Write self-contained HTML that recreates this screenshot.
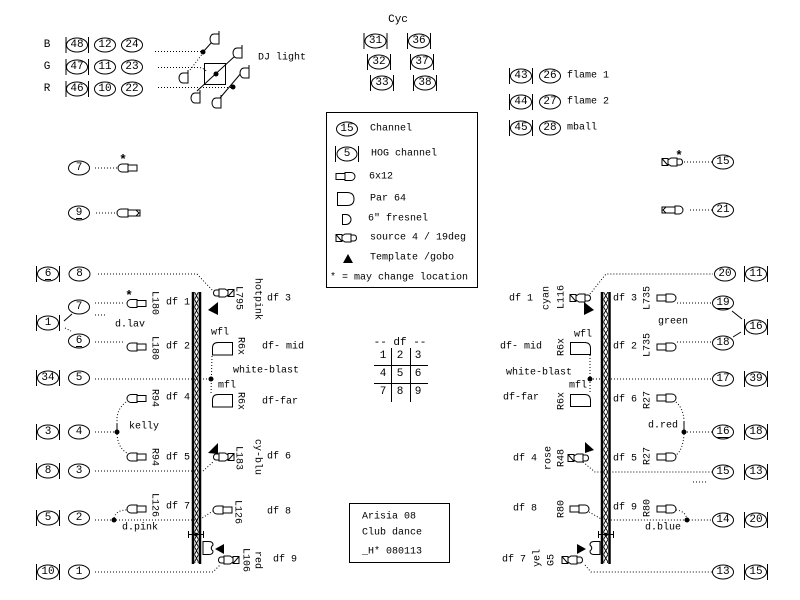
<!DOCTYPE html>
<html><head><meta charset="utf-8"><style>
html,body{margin:0;padding:0;background:#fff;}
svg{display:block;}
svg text{font-family:"Liberation Mono","DejaVu Sans Mono",monospace;font-size:10px;dominant-baseline:central;fill:#000;}
.c{text-anchor:middle;font-size:11px;}
text.c[transform]{font-size:10px;}
.ast{font-size:13px;font-weight:bold;}
.e{fill:#fff;stroke:#000;stroke-width:1;}
.s{fill:none;stroke:#000;stroke-width:1;}
.f{fill:#fff;stroke:#000;stroke-width:1;}
.d{fill:none;stroke:#000;stroke-width:1;stroke-dasharray:1 2;}
</style></head><body>
<svg width="800" height="600" viewBox="0 0 800 600" xmlns="http://www.w3.org/2000/svg">
<defs>
<g id="s6L"><path class="f" d="M10,-4 H4 A4,4 0 0 0 4,4 H10 Z"/><rect class="f" x="10" y="-3" width="9" height="6"/></g>
<g id="s6R"><rect class="f" x="0" y="-3" width="9" height="6"/><path class="f" d="M9,-4 H15 A4,4 0 0 1 15,4 H9 Z"/></g>
<g id="s4R"><rect class="f" x="0" y="-3.5" width="6" height="7"/><line class="s" x1="0" y1="-3.5" x2="6" y2="3.5"/><path class="f" d="M6,-2 L9,-4 H15 V4 H9 L6,2 Z"/><path class="f" d="M15,-3 H18 A2.5,3 0 0 1 18,3 H15 Z"/></g>
<g id="parR"><path class="f" d="M0,0 H14 Q20,0 20,6 V12 H0 Z"/></g>
<g id="frD"><path class="f" d="M8,-5 V5 H3 A4,5 0 0 1 3,-5 Z"/><line class="s" x1="8" y1="-5" x2="8" y2="-8"/></g>
<pattern id="zzL" patternUnits="userSpaceOnUse" x="194.5" y="292" width="4" height="15"><path d="M0,0 L4,7.5 L0,15 M4,0 L0,7.5 L4,15" fill="none" stroke="#000" stroke-width="0.9"/></pattern>
<pattern id="zzR" patternUnits="userSpaceOnUse" x="603.5" y="292" width="4.5" height="15"><path d="M0,0 L4.5,7.5 L0,15 M4.5,0 L0,7.5 L4.5,15" fill="none" stroke="#000" stroke-width="0.9"/></pattern>
</defs>

<!-- DJ area -->
<text class="c" x="47" y="45">B</text>
<text class="c" x="47" y="67">G</text>
<text class="c" x="47" y="89">R</text>
<g>
<ellipse class="e" cx="77" cy="45" rx="10.5" ry="7"/><line class="s" x1="66" y1="37" x2="66" y2="53"/><line class="s" x1="88.5" y1="37" x2="88.5" y2="53"/><text class="c" x="77" y="45">48</text>
<ellipse class="e" cx="77" cy="67" rx="10.5" ry="7"/><line class="s" x1="66" y1="59" x2="66" y2="75"/><line class="s" x1="88.5" y1="59" x2="88.5" y2="75"/><text class="c" x="77" y="67">47</text>
<ellipse class="e" cx="77" cy="89" rx="10.5" ry="7"/><line class="s" x1="66" y1="81" x2="66" y2="97"/><line class="s" x1="88.5" y1="81" x2="88.5" y2="97"/><text class="c" x="77" y="89">46</text>
<ellipse class="e" cx="105" cy="45" rx="10.5" ry="7"/><text class="c" x="105" y="45">12</text>
<ellipse class="e" cx="105" cy="67" rx="10.5" ry="7"/><text class="c" x="105" y="67">11</text>
<ellipse class="e" cx="105" cy="89" rx="10.5" ry="7"/><text class="c" x="105" y="89">10</text>
<ellipse class="e" cx="132" cy="45" rx="10.5" ry="7"/><text class="c" x="132" y="45">24</text>
<ellipse class="e" cx="132" cy="67" rx="10.5" ry="7"/><text class="c" x="132" y="67">23</text>
<ellipse class="e" cx="132" cy="89" rx="10.5" ry="7"/><text class="c" x="132" y="89">22</text>
</g>
<path class="d" d="M155,51.5 H203"/>
<path class="d" d="M158,67.5 H199 Q204,68 207,72"/>
<path class="d" d="M158,87.5 H233"/>
<rect class="s" x="204.5" y="63.5" width="21" height="21"/>
<line class="d" x1="190" y1="70" x2="203" y2="53"/>
<line class="s" x1="203" y1="52" x2="212" y2="42"/>
<line class="s" x1="197" y1="91" x2="235" y2="56"/>
<line class="s" x1="220" y1="98" x2="242" y2="72"/>
<circle cx="203" cy="52" r="2.5"/>
<circle cx="216" cy="74" r="2.5"/>
<circle cx="233" cy="87" r="2.5"/>
<use href="#frD" x="211" y="39"/>
<use href="#frD" x="180" y="78"/>
<use href="#frD" x="234" y="53"/>
<use href="#frD" x="192" y="98"/>
<use href="#frD" x="241" y="73"/>
<use href="#frD" x="213" y="103"/>
<text x="258" y="58">DJ light</text>

<!-- Cyc -->
<text class="c" x="398" y="20">Cyc</text>
<ellipse class="e" cx="375.5" cy="41" rx="10.5" ry="7"/><line class="s" x1="364" y1="33" x2="364" y2="49"/><line class="s" x1="387" y1="33" x2="387" y2="49"/><text class="c" x="375.5" y="41">31</text>
<ellipse class="e" cx="419" cy="41" rx="10.5" ry="7"/><line class="s" x1="407.5" y1="33" x2="407.5" y2="49"/><line class="s" x1="430.5" y1="33" x2="430.5" y2="49"/><text class="c" x="419" y="41">36</text>
<ellipse class="e" cx="379" cy="62" rx="10.5" ry="7"/><line class="s" x1="367.5" y1="54" x2="367.5" y2="70"/><line class="s" x1="390.5" y1="54" x2="390.5" y2="70"/><text class="c" x="379" y="62">32</text>
<ellipse class="e" cx="422" cy="62" rx="10.5" ry="7"/><line class="s" x1="410.5" y1="54" x2="410.5" y2="70"/><line class="s" x1="433.5" y1="54" x2="433.5" y2="70"/><text class="c" x="422" y="62">37</text>
<ellipse class="e" cx="382" cy="83" rx="10.5" ry="7"/><line class="s" x1="370.5" y1="75" x2="370.5" y2="91"/><line class="s" x1="393.5" y1="75" x2="393.5" y2="91"/><text class="c" x="382" y="83">33</text>
<ellipse class="e" cx="425" cy="83" rx="10.5" ry="7"/><line class="s" x1="413.5" y1="75" x2="413.5" y2="91"/><line class="s" x1="436.5" y1="75" x2="436.5" y2="91"/><text class="c" x="425" y="83">38</text>

<!-- flame -->
<ellipse class="e" cx="521" cy="76" rx="10.5" ry="7"/><line class="s" x1="509.5" y1="68" x2="509.5" y2="84"/><line class="s" x1="532.5" y1="68" x2="532.5" y2="84"/><text class="c" x="521" y="76">43</text>
<ellipse class="e" cx="550" cy="76" rx="10.5" ry="7"/><text class="c" x="550" y="76">26</text>
<text x="567" y="76">flame 1</text>
<ellipse class="e" cx="521" cy="102" rx="10.5" ry="7"/><line class="s" x1="509.5" y1="94" x2="509.5" y2="110"/><line class="s" x1="532.5" y1="94" x2="532.5" y2="110"/><text class="c" x="521" y="102">44</text>
<ellipse class="e" cx="550" cy="102" rx="10.5" ry="7"/><text class="c" x="550" y="102">27</text>
<text x="567" y="102">flame 2</text>
<ellipse class="e" cx="521" cy="128" rx="10.5" ry="7"/><line class="s" x1="509.5" y1="120" x2="509.5" y2="136"/><line class="s" x1="532.5" y1="120" x2="532.5" y2="136"/><text class="c" x="521" y="128">45</text>
<ellipse class="e" cx="550" cy="128" rx="10.5" ry="7"/><text class="c" x="550" y="128">28</text>
<text x="567" y="128">mball</text>

<!-- Legend -->
<rect class="s" x="326.5" y="112.5" width="151" height="175"/>
<ellipse class="e" cx="347" cy="129" rx="10.5" ry="7"/><text class="c" x="347" y="129">15</text>
<text x="370" y="129">Channel</text>
<ellipse class="e" cx="347" cy="154" rx="10" ry="7"/><line class="s" x1="335.5" y1="146" x2="335.5" y2="162"/><line class="s" x1="358.5" y1="146" x2="358.5" y2="162"/><text class="c" x="347" y="154">5</text>
<text x="371" y="154">HOG channel</text>
<use href="#s6R" x="336" y="176.5"/>
<text x="369" y="177">6x12</text>
<path class="f" d="M337.5,192.5 H347 Q354,192.5 354,199 Q354,205.5 347,205.5 H337.5 Z"/>
<text x="370" y="199">Par 64</text>
<path class="f" d="M342.5,214.5 H346 A5,5 0 0 1 346,224.5 H342.5 Z"/>
<text x="368" y="219">6" fresnel</text>
<use href="#s4R" x="336" y="238"/>
<text x="370" y="238">source 4 / 19deg</text>
<polygon points="343,263 348,254 353,263"/>
<text x="370" y="258">Template /gobo</text>
<text x="330" y="278">* = may change location</text>

<!-- left middle -->
<ellipse class="e" cx="79" cy="168" rx="10.5" ry="7"/><text class="c" x="79" y="168">7</text>
<path class="d" d="M95,168 H117"/>
<use href="#s6L" x="118" y="168"/>
<text class="c ast" x="123" y="160">*</text>
<ellipse class="e" cx="79" cy="213" rx="10.5" ry="7"/><text class="c" x="79" y="213">9</text><line class="s" x1="76" y1="218.5" x2="82" y2="218.5"/>
<path class="d" d="M96,213 H115"/>
<path class="f" d="M128,209 H121 A4,4 0 0 0 121,217 H128 Z"/><rect class="f" x="128" y="210" width="12" height="6"/><path class="s" d="M136,210 L139,213 L136,216"/>

<!-- right top -->
<use href="#s4R" x="662" y="162"/>
<text class="c ast" x="679" y="156">*</text>
<path class="d" d="M684,162 H712"/>
<ellipse class="e" cx="723" cy="162" rx="10.5" ry="7"/><text class="c" x="723" y="162">15</text>
<rect class="f" x="662" y="207" width="13" height="6"/><path class="s" d="M666,207 L663,210 L666,213"/><path class="f" d="M675,206 H679 A4,4 0 0 1 679,214 H675 Z"/>
<path class="d" d="M690,210 H712"/>
<ellipse class="e" cx="723" cy="210" rx="10.5" ry="7"/><text class="c" x="723" y="210">21</text>

<!-- TRUSSES -->
<rect x="194.5" y="292" width="4" height="271" fill="url(#zzL)"/>
<line x1="193" y1="292" x2="193" y2="564" stroke="#000" stroke-width="2.5"/>
<line x1="200" y1="292" x2="200" y2="564" stroke="#000" stroke-width="2.5"/>
<rect x="603.5" y="292" width="4.5" height="271" fill="url(#zzR)"/>
<line x1="602" y1="292" x2="602" y2="564" stroke="#000" stroke-width="2.5"/>
<line x1="609.5" y1="292" x2="609.5" y2="564" stroke="#000" stroke-width="2.5"/>
<!-- clamps -->
<line class="s" x1="188" y1="534.5" x2="204" y2="534.5"/><line class="s" x1="188.5" y1="531" x2="188.5" y2="538"/><line class="s" x1="203.5" y1="531" x2="203.5" y2="538"/><circle cx="196" cy="534.5" r="1.8"/>
<line class="s" x1="598" y1="534.5" x2="614" y2="534.5"/><line class="s" x1="598.5" y1="531" x2="598.5" y2="538"/><line class="s" x1="613.5" y1="531" x2="613.5" y2="538"/><circle cx="606" cy="534.5" r="1.8"/>

<!-- LEFT side channels -->
<ellipse class="e" cx="48" cy="274" rx="10.5" ry="7"/><line class="s" x1="36.5" y1="266" x2="36.5" y2="282"/><line class="s" x1="59.5" y1="266" x2="59.5" y2="282"/><text class="c" x="48" y="274">6</text><line class="s" x1="45" y1="279.5" x2="51" y2="279.5"/>
<ellipse class="e" cx="79.5" cy="274" rx="10.5" ry="7"/><text class="c" x="79.5" y="274">8</text>
<path class="d" d="M98,274 H197 L213,291"/>
<g transform="translate(234,293) scale(-1,1)"><use href="#s4R" x="0" y="0"/></g>
<polygon points="208,310 218,302 218,315"/>
<text class="c" transform="translate(238,298) rotate(90)">L795</text>
<text class="c" transform="translate(257,299) rotate(90)">hotpink</text>
<text x="267" y="299">df 3</text>

<ellipse class="e" cx="79" cy="307" rx="10.5" ry="7"/><text class="c" x="79" y="307">7</text>
<ellipse class="e" cx="48" cy="323" rx="10.5" ry="7"/><line class="s" x1="36.5" y1="315" x2="36.5" y2="331"/><line class="s" x1="59.5" y1="315" x2="59.5" y2="331"/><text class="c" x="48" y="323">1</text>
<line class="s" x1="64" y1="321" x2="72" y2="314"/>
<path class="d" d="M65,328 L71,331"/>
<path class="d" d="M95,303 H124"/>
<path class="d" d="M95,315 H106"/>
<use href="#s6L" x="127" y="303.5"/>
<text class="c ast" x="129" y="296">*</text>
<text class="c" transform="translate(154,303) rotate(90)">L180</text>
<text x="166" y="303">df 1</text>
<text x="115" y="325">d.lav</text>

<ellipse class="e" cx="79" cy="341" rx="10.5" ry="7"/><text class="c" x="79" y="341">6</text><line class="s" x1="76" y1="346.5" x2="82" y2="346.5"/>
<path class="d" d="M95,342 H124"/>
<use href="#s6L" x="127" y="347"/>
<text class="c" transform="translate(154,348) rotate(90)">L180</text>
<text x="166" y="347">df 2</text>

<ellipse class="e" cx="48" cy="378" rx="10.5" ry="7"/><line class="s" x1="36.5" y1="370" x2="36.5" y2="386"/><line class="s" x1="59.5" y1="370" x2="59.5" y2="386"/><text class="c" x="48" y="378">34</text>
<ellipse class="e" cx="79" cy="378" rx="10.5" ry="7"/><text class="c" x="79" y="378">5</text>
<path class="d" d="M95,379 H211"/>
<circle cx="211" cy="379" r="2.5"/>
<text x="211" y="333">wfl</text>
<path class="f" d="M232.5,342.5 H218 Q212.5,342.5 212.5,348 V355 H232.5 Z"/>
<text class="c" transform="translate(240,346) rotate(90)">R6x</text>
<text x="262" y="347">df- mid</text>
<text x="233" y="371">white-blast</text>
<path class="d" d="M212,356 L211,394"/>
<text x="218" y="386">mfl</text>
<path class="f" d="M232.5,394.5 H218 Q212.5,394.5 212.5,400 V407 H232.5 Z"/>
<text class="c" transform="translate(240,401) rotate(90)">R6x</text>
<text x="262" y="402">df-far</text>

<use href="#s6L" x="127" y="398.5"/>
<text class="c" transform="translate(154,398) rotate(90)">R94</text>
<text x="166" y="398">df 4</text>
<path class="d" d="M126,402 Q118,408 117,418 V424"/>
<line class="s" x1="117" y1="424" x2="117" y2="432"/>

<ellipse class="e" cx="48" cy="432" rx="10.5" ry="7"/><line class="s" x1="36.5" y1="424" x2="36.5" y2="440"/><line class="s" x1="59.5" y1="424" x2="59.5" y2="440"/><text class="c" x="48" y="432">3</text>
<ellipse class="e" cx="79" cy="432" rx="10.5" ry="7"/><text class="c" x="79" y="432">4</text>
<path class="d" d="M95,432 H117"/>
<circle cx="117" cy="432" r="2.5"/>
<text x="129" y="427">kelly</text>
<path class="d" d="M117,434 Q118,448 127,453"/>
<use href="#s6L" x="127" y="457"/>
<text class="c" transform="translate(154,457) rotate(90)">R94</text>
<text x="166" y="458">df 5</text>

<ellipse class="e" cx="48" cy="471" rx="10.5" ry="7"/><line class="s" x1="36.5" y1="463" x2="36.5" y2="479"/><line class="s" x1="59.5" y1="463" x2="59.5" y2="479"/><text class="c" x="48" y="471">8</text>
<ellipse class="e" cx="79" cy="471" rx="10.5" ry="7"/><text class="c" x="79" y="471">3</text>
<path class="d" d="M95,471 H203 L213,462"/>
<g transform="translate(234,457) scale(-1,1)"><use href="#s4R" x="0" y="0"/></g>
<polygon points="208,453 218,443 218,454"/>
<text class="c" transform="translate(238,458) rotate(90)">L183</text>
<text class="c" transform="translate(257,457) rotate(90)">cy-blu</text>
<text x="267" y="457">df 6</text>

<use href="#s6L" x="127" y="509"/>
<text class="c" transform="translate(154,505) rotate(90)">L126</text>
<text x="166" y="507">df 7</text>
<ellipse class="e" cx="48" cy="518" rx="10.5" ry="7"/><line class="s" x1="36.5" y1="510" x2="36.5" y2="526"/><line class="s" x1="59.5" y1="510" x2="59.5" y2="526"/><text class="c" x="48" y="518">5</text>
<ellipse class="e" cx="79" cy="518" rx="10.5" ry="7"/><text class="c" x="79" y="518">2</text>
<path class="d" d="M95,520 H199 L213,511"/>
<circle cx="114" cy="520" r="2.5"/>
<path class="d" d="M114,518 Q116,510 127,510"/>
<text x="122" y="528">d.pink</text>
<use href="#s6L" x="213" y="510"/>
<text class="c" transform="translate(237,512) rotate(90)">L126</text>
<text x="267" y="512">df 8</text>

<path class="f" d="M203,541.5 H209 Q213,541.5 213,545 Q209.5,548 213,551 Q213,554.5 209,554.5 H203 Z"/>
<polygon points="215,549 224,544 224,554"/>
<g transform="translate(239,560) scale(-1,1)"><use href="#s4R" x="0" y="0"/></g>
<text class="c" transform="translate(245,560) rotate(90)">L106</text>
<text class="c" transform="translate(257,560) rotate(90)">red</text>
<text x="273" y="560">df 9</text>
<ellipse class="e" cx="48" cy="572" rx="10.5" ry="7"/><line class="s" x1="36.5" y1="564" x2="36.5" y2="580"/><line class="s" x1="59.5" y1="564" x2="59.5" y2="580"/><text class="c" x="48" y="572">10</text>
<ellipse class="e" cx="79" cy="572" rx="10.5" ry="7"/><text class="c" x="79" y="572">1</text>
<path class="d" d="M95,572 H213 L220,565"/>

<!-- RIGHT side -->
<text x="509" y="299">df 1</text>
<text class="c" transform="translate(547,298) rotate(-90)">cyan</text>
<text class="c" transform="translate(562,297) rotate(-90)">L116</text>
<use href="#s4R" x="570" y="298"/>
<polygon points="594,310 584,302 584,315"/>
<path class="d" d="M590,294 L606,274 H713"/>
<ellipse class="e" cx="725" cy="274" rx="10.5" ry="7"/><text class="c" x="725" y="274">20</text>
<ellipse class="e" cx="756" cy="274" rx="10.5" ry="7"/><line class="s" x1="744.5" y1="266" x2="744.5" y2="282"/><line class="s" x1="767.5" y1="266" x2="767.5" y2="282"/><text class="c" x="756" y="274">11</text>

<text x="613" y="299">df 3</text>
<text class="c" transform="translate(648,298) rotate(-90)">L735</text>
<use href="#s6R" x="657" y="298"/>
<path class="d" d="M677,303 H712"/>
<ellipse class="e" cx="723" cy="303" rx="10.5" ry="7"/><text class="c" x="723" y="303">19</text><line class="s" x1="717" y1="308.5" x2="729" y2="308.5"/>
<ellipse class="e" cx="756" cy="327" rx="10.5" ry="7"/><line class="s" x1="744.5" y1="319" x2="744.5" y2="335"/><line class="s" x1="767.5" y1="319" x2="767.5" y2="335"/><text class="c" x="756" y="327">16</text>
<line class="s" x1="732" y1="311" x2="742" y2="319"/>
<line class="s" x1="733" y1="337" x2="741" y2="332"/>
<text x="658" y="322">green</text>

<text x="613" y="347">df 2</text>
<text class="c" transform="translate(648,345) rotate(-90)">L735</text>
<use href="#s6R" x="657" y="347"/>
<path class="d" d="M677,342 H712"/>
<ellipse class="e" cx="723" cy="343" rx="10.5" ry="7"/><text class="c" x="723" y="343">18</text>

<text x="574" y="335">wfl</text>
<text x="500" y="347">df- mid</text>
<text class="c" transform="translate(562,347) rotate(-90)">R6x</text>
<use href="#parR" x="570.5" y="342.5"/>
<text x="506" y="373">white-blast</text>
<circle cx="590" cy="379" r="2.5"/>
<path class="d" d="M590,379 H712"/>
<path class="d" d="M590,355 V394"/>
<ellipse class="e" cx="723" cy="379" rx="10.5" ry="7"/><text class="c" x="723" y="379">17</text>
<ellipse class="e" cx="756" cy="379" rx="10.5" ry="7"/><line class="s" x1="744.5" y1="371" x2="744.5" y2="387"/><line class="s" x1="767.5" y1="371" x2="767.5" y2="387"/><text class="c" x="756" y="379">39</text>
<text x="569" y="386">mfl</text>
<text x="503" y="398">df-far</text>
<text class="c" transform="translate(562,401) rotate(-90)">R6x</text>
<use href="#parR" x="570.5" y="394.5"/>

<text x="613" y="400">df 6</text>
<text class="c" transform="translate(648,400) rotate(-90)">R27</text>
<use href="#s6R" x="657" y="398"/>
<path class="d" d="M676,402 Q683,408 684,420"/>
<text x="648" y="426">d.red</text>
<line class="s" x1="684" y1="421" x2="684" y2="432"/>
<circle cx="684" cy="432" r="2.5"/>
<path class="d" d="M684,432 H712"/>
<ellipse class="e" cx="723" cy="432" rx="10.5" ry="7"/><text class="c" x="723" y="432">16</text><line class="s" x1="717" y1="437.5" x2="729" y2="437.5"/>
<ellipse class="e" cx="756" cy="432" rx="10.5" ry="7"/><line class="s" x1="744.5" y1="424" x2="744.5" y2="440"/><line class="s" x1="767.5" y1="424" x2="767.5" y2="440"/><text class="c" x="756" y="432">18</text>
<path class="d" d="M684,434 Q683,450 676,455"/>
<use href="#s6R" x="657" y="457"/>
<text class="c" transform="translate(648,456) rotate(-90)">R27</text>
<text x="613" y="459">df 5</text>

<text x="513" y="459">df 4</text>
<text class="c" transform="translate(549,458) rotate(-90)">rose</text>
<text class="c" transform="translate(562,458) rotate(-90)">R48</text>
<use href="#s4R" x="568" y="458"/>
<polygon points="585,442 585,453 594,450"/>
<path class="d" d="M583,462 L595,472 H712"/>
<path class="d" d="M693,482 H707"/>
<ellipse class="e" cx="723" cy="472" rx="10.5" ry="7"/><text class="c" x="723" y="472">15</text>
<ellipse class="e" cx="756" cy="472" rx="10.5" ry="7"/><line class="s" x1="744.5" y1="464" x2="744.5" y2="480"/><line class="s" x1="767.5" y1="464" x2="767.5" y2="480"/><text class="c" x="756" y="472">13</text>

<text x="513" y="509">df 8</text>
<text class="c" transform="translate(562,509) rotate(-90)">R80</text>
<use href="#s6R" x="570" y="509"/>
<path class="d" d="M589,512 L603,520 H712"/>
<text x="613" y="508">df 9</text>
<text class="c" transform="translate(648,508) rotate(-90)">R80</text>
<use href="#s6R" x="657" y="509"/>
<path class="d" d="M676,510 Q686,511 687,520"/>
<circle cx="687" cy="520" r="2.5"/>
<ellipse class="e" cx="723" cy="520" rx="10.5" ry="7"/><text class="c" x="723" y="520">14</text>
<ellipse class="e" cx="756" cy="520" rx="10.5" ry="7"/><line class="s" x1="744.5" y1="512" x2="744.5" y2="528"/><line class="s" x1="767.5" y1="512" x2="767.5" y2="528"/><text class="c" x="756" y="520">20</text>
<text x="645" y="528">d.blue</text>

<path class="f" d="M600,541.5 H594 Q590,541.5 590,545 Q593.5,548 590,551 Q590,554.5 594,554.5 H600 Z"/>
<polygon points="577,544 577,554 586,549"/>
<use href="#s4R" x="562" y="560"/>
<text class="c" transform="translate(538,558) rotate(-90)">yel</text>
<text class="c" transform="translate(552,560) rotate(-90)">G5</text>
<text x="502" y="560">df 7</text>
<path class="d" d="M585,565 L591,572 H712"/>
<ellipse class="e" cx="723" cy="572" rx="10.5" ry="7"/><text class="c" x="723" y="572">13</text>
<ellipse class="e" cx="756" cy="572" rx="10.5" ry="7"/><line class="s" x1="744.5" y1="564" x2="744.5" y2="580"/><line class="s" x1="767.5" y1="564" x2="767.5" y2="580"/><text class="c" x="756" y="572">15</text>

<!-- df table -->
<text class="c" x="400" y="343">-- df --</text>
<line class="s" x1="391.5" y1="348" x2="391.5" y2="402"/>
<line class="s" x1="410.5" y1="348" x2="410.5" y2="402"/>
<line class="s" x1="374" y1="365.5" x2="428" y2="365.5"/>
<line class="s" x1="374" y1="383.5" x2="428" y2="383.5"/>
<text class="c" x="383" y="356">1</text><text class="c" x="400" y="356">2</text><text class="c" x="418" y="356">3</text>
<text class="c" x="383" y="374">4</text><text class="c" x="400" y="374">5</text><text class="c" x="418" y="374">6</text>
<text class="c" x="383" y="392">7</text><text class="c" x="400" y="392">8</text><text class="c" x="418" y="392">9</text>

<!-- title block -->
<rect class="s" x="349.5" y="503.5" width="100" height="59"/>
<text x="362" y="517">Arisia 08</text>
<text x="362" y="533">Club dance</text>
<text x="362" y="552">_H* 080113</text>
</svg>
</body></html>
